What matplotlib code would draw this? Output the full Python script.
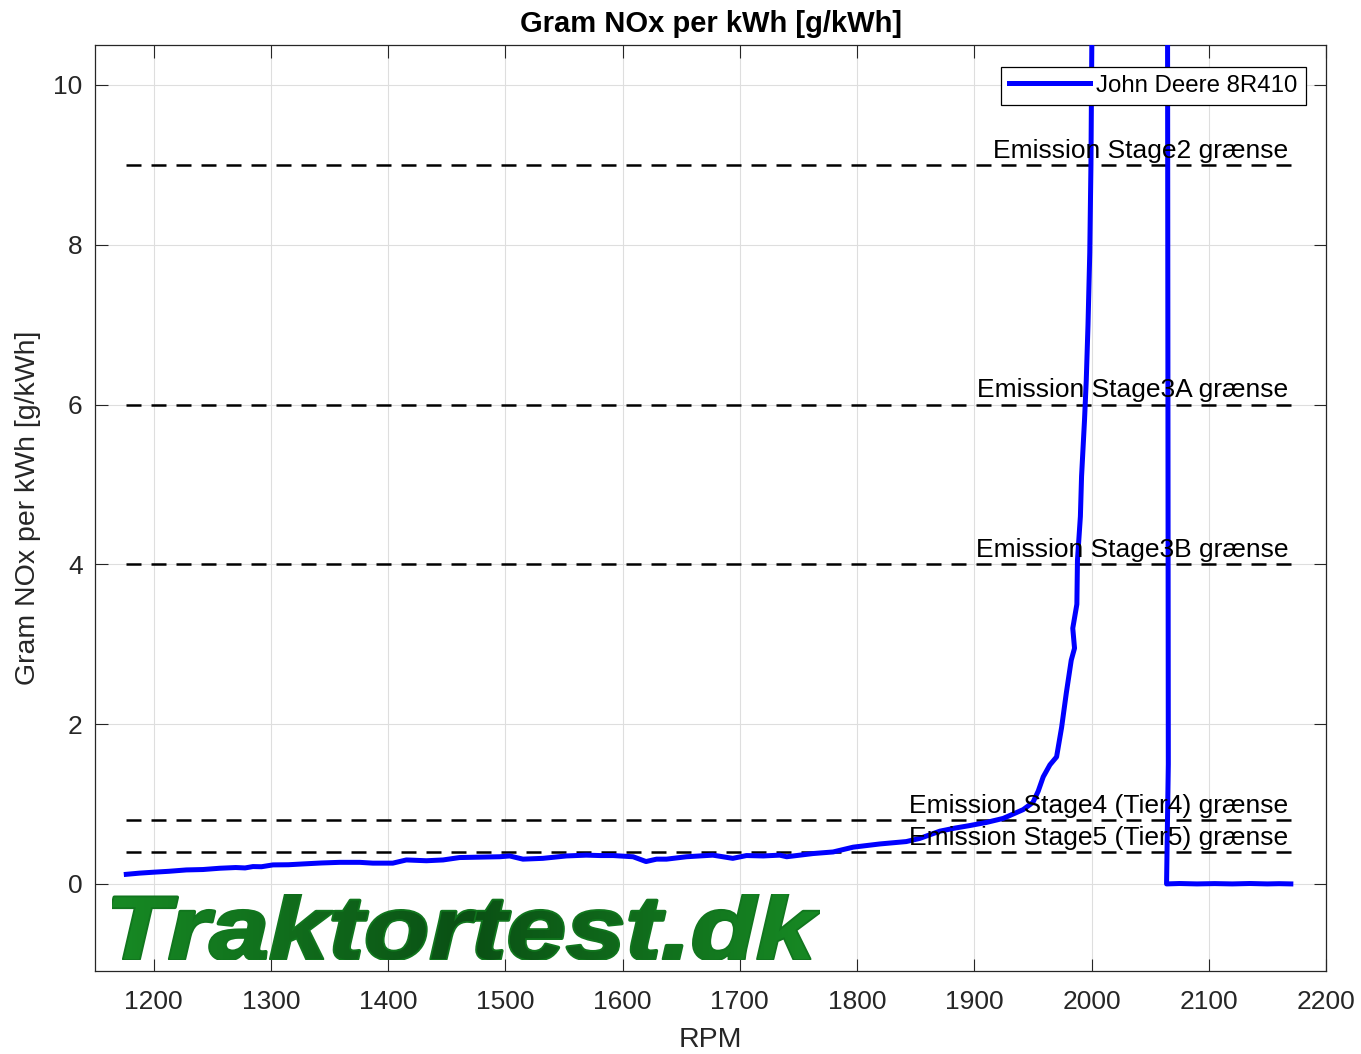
import numpy as np
import matplotlib
matplotlib.use("Agg")
import matplotlib.pyplot as plt
from matplotlib.textpath import TextPath
from matplotlib.font_manager import FontProperties
from matplotlib.patches import PathPatch
from matplotlib.colors import LinearSegmentedColormap

plt.rcParams['font.family'] = ['Liberation Sans', 'DejaVu Sans']

# målte værdier
rpm = [1176.7, 1188, 1199.4, 1213, 1227.9, 1242, 1256.3, 1270, 1278, 1284.7, 1292,
       1301.8, 1315, 1327.4, 1343, 1358.7, 1375.8, 1387, 1404, 1415.6, 1432.7,
       1446.9, 1461, 1478, 1495.2, 1503.7, 1515, 1532, 1552, 1569, 1580.5, 1592,
       1609, 1620, 1629, 1637.5, 1654.5, 1677, 1694, 1705.7, 1720, 1734, 1740,
       1762.5, 1779.6, 1796.7, 1819.4, 1842, 1853.6, 1870.6, 1884, 1896, 1910.5,
       1924.7, 1941.7, 1950, 1954.5, 1958.8, 1964.5, 1970.2, 1974.5, 1978.5,
       1982.7, 1985.5, 1984, 1987.5, 1988, 1990.5, 1991.5, 1994, 1995.5, 1997,
       1998.5, 1999.5, 2000.5, 2001, 2030, 2063.5, 2065.5, 2064, 2075, 2090,
       2105, 2120, 2135, 2150, 2160, 2170]
nox = [0.12, 0.135, 0.146, 0.158, 0.175, 0.18, 0.196, 0.205, 0.2, 0.217, 0.215,
       0.238, 0.24, 0.25, 0.262, 0.27, 0.27, 0.26, 0.26, 0.30, 0.29,
       0.30, 0.33, 0.335, 0.34, 0.35, 0.31, 0.32, 0.35, 0.36, 0.355, 0.355,
       0.34, 0.28, 0.31, 0.31, 0.34, 0.36, 0.32, 0.355, 0.35, 0.36, 0.34,
       0.38, 0.40, 0.46, 0.50, 0.53, 0.57, 0.66, 0.70, 0.73, 0.77,
       0.82, 0.93, 1.02, 1.16, 1.34, 1.49, 1.59, 1.96, 2.39,
       2.8, 2.95, 3.2, 3.5, 4.05, 4.6, 5.1, 5.8, 6.3, 7.0,
       7.9, 9.0, 11.0, 30.0, 30.0, 30.0, 1.5, 0.0, 0.005, 0.0,
       0.004, 0.0, 0.005, 0.0, 0.003, 0.0]

limit_vals = [9, 6, 4, 0.8, 0.4]
limit_labels = ['Emission Stage2 grænse', 'Emission Stage3A grænse',
                'Emission Stage3B grænse', 'Emission Stage4 (Tier4) grænse',
                'Emission Stage5 (Tier5) grænse']
xticks = [1200, 1300, 1400, 1500, 1600, 1700, 1800, 1900, 2000, 2100, 2200]
yticks = [0, 2, 4, 6, 8, 10]

fig = plt.figure(figsize=(13.61, 10.54), dpi=100)
ax = fig.add_axes([95 / 1361, 1 - 971 / 1054, 1231 / 1361, 926 / 1054])

# grænselinjer
for val, lab in zip(limit_vals, limit_labels):
    ax.plot([rpm[0], rpm[-1]], [val, val], color='black', lw=1.8,
            linestyle=(0, (6, 4)), zorder=2)
    ax.text(rpm[-1] - 2, val + 0.09, lab, ha='right', va='baseline',
            fontsize=19, color='black', zorder=4)

ax.plot(rpm, nox, color='#0000ff', lw=3.6, label='John Deere 8R410', zorder=3)

ax.set_xlim(1150, 2200)
ax.set_ylim(-1.09, 10.5)
ax.set_xticks(xticks)
ax.set_yticks(yticks)
ax.grid(True, color='#dedede', lw=0.8)
ax.set_axisbelow(True)
ax.tick_params(direction='in', length=9, width=0.8, top=True, right=True,
               labelsize=19, colors='#262626', pad=9)
ax.tick_params(axis='x', pad=14)
for s in ax.spines.values():
    s.set_color('#262626')
    s.set_linewidth(0.9)

ax.set_title('Gram NOx per kWh [g/kWh]', fontsize=21, fontweight='bold', pad=9)
ax.set_xlabel('RPM', fontsize=20.5, color='#262626', labelpad=9)
ax.set_ylabel('Gram NOx per kWh [g/kWh]', fontsize=20.5, color='#262626', labelpad=9)

leg = ax.legend(loc='upper right', bbox_to_anchor=(0.9834, 0.9766), borderaxespad=0,
                fontsize=17.3, handlelength=3.4, handletextpad=0.25, borderpad=0.33,
                fancybox=False, framealpha=1, edgecolor='black')
leg.get_frame().set_linewidth(0.9)

# vandmærke
tp = TextPath((0, 0), 'Traktortest.dk', size=100,
              prop=FontProperties(family='Liberation Sans', weight='bold', style='italic'))
bb = tp.get_extents()
wax = fig.add_axes([112 / 1361, 1 - 960 / 1054, 708 / 1361, 66 / 1054])
wax.set_xlim(bb.x0, bb.x1)
wax.set_ylim(bb.y0, bb.y1)
wax.axis('off')
# tykkere streg under gradienten
wax.add_patch(PathPatch(tp, facecolor='#11761e', edgecolor='#11761e', lw=2.6,
                        joinstyle='round', zorder=1))
patch = PathPatch(tp, facecolor='none', edgecolor='none', zorder=1)
wax.add_patch(patch)
cmap = LinearSegmentedColormap.from_list('tt', ['#178a24', '#0a5014', '#178a24'])
grad = np.linspace(0, 1, 256).reshape(1, -1)
im = wax.imshow(grad, extent=[bb.x0, bb.x1, bb.y0, bb.y1], aspect='auto', cmap=cmap,
                zorder=2)
im.set_clip_path(patch)

fig.savefig('out.png', dpi=100)
